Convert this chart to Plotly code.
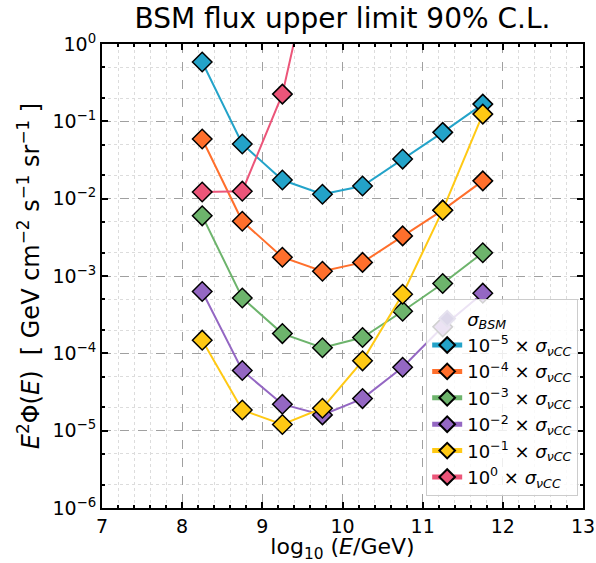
import plotly.graph_objects as go

# log10(E/GeV) bin centres
log_energy = [8.25, 8.75, 9.25, 9.75, 10.25, 10.75, 11.25, 11.75]

# E^2 Phi upper limits (GeV cm^-2 s^-1 sr^-1) for each cross-section scaling
flux_1e5 = [0.585, 0.051, 0.0174, 0.0114, 0.0146, 0.0325, 0.072, 0.167]
flux_1e4 = [0.059, 0.0051, 0.00175, 0.00115, 0.0015, 0.0033, 0.0071, 0.017]
flux_1e3 = [0.006, 0.00052, 0.00018, 0.000118, 0.00016, 0.00035, 0.0008, 0.002]
flux_1e2 = [0.00063, 6.0e-5, 2.2e-5, 1.6e-5, 2.6e-5, 6.6e-5, 2.2e-4, 0.0006]
flux_1e1 = [1.48e-4, 1.85e-5, 1.2e-5, 1.95e-5, 8.0e-5, 5.8e-4, 0.0071, 0.124]
flux_1e0 = [0.0122, 0.0125, 0.225, 45.0, None, None, None, None]

exponents = ["−5", "−4", "−3", "−2", "−1", "0"]
series = [flux_1e5, flux_1e4, flux_1e3, flux_1e2, flux_1e1, flux_1e0]
colors = ["#23a3c9", "#ff6f2c", "#6db46c", "#9467c3", "#ffc914", "#ec5579"]

y_tick_vals = [1e-6, 1e-5, 1e-4, 1e-3, 1e-2, 1e-1, 1e0]
y_tick_text = ["10<sup>−6</sup>", "10<sup>−5</sup>", "10<sup>−4</sup>", "10<sup>−3</sup>",
               "10<sup>−2</sup>", "10<sup>−1</sup>", "10<sup>0</sup>"]

FONT = "DejaVu Sans, Liberation Sans, sans-serif"

fig = go.Figure()

# header entry for the legend
fig.add_trace(go.Scatter(
    x=[None], y=[None], mode="markers",
    name="<i>σ</i><sub><i>BSM</i></sub>",
    marker=dict(symbol="diamond", size=15, color="#ddd8ea",
                line=dict(color="#e6e2ef", width=1)),
))

for exp, vals, col in zip(exponents, series, colors):
    fig.add_trace(go.Scatter(
        x=log_energy, y=vals, mode="lines+markers",
        name=f"10<sup>{exp}</sup> × <i>σ</i><sub><i>νCC</i></sub>",
        line=dict(color=col, width=2),
        marker=dict(symbol="diamond", size=15, color=col,
                    line=dict(color="black", width=1.5)),
        connectgaps=False,
    ))

axis_common = dict(
    showline=True, linecolor="black", linewidth=2, mirror="allticks",
    ticks="inside", ticklen=6, tickwidth=1.5, tickcolor="black",
    showgrid=True, gridcolor="#a0a0a0", griddash="dash", gridwidth=1.2,
    zeroline=False, automargin=False,
    tickfont=dict(family=FONT, size=19, color="black"),
)

fig.update_xaxes(
    **axis_common,
    range=[7, 13], dtick=1, tick0=7,
    minor=dict(dtick=0.2, ticks="inside", ticklen=3, tickcolor="black",
               showgrid=True, gridcolor="#dcdcdc", griddash="dot", gridwidth=1),
    title=dict(text="log<sub>10</sub> (<i>E</i>/GeV)",
               font=dict(family=FONT, size=22, color="black"), standoff=6),
)
fig.update_yaxes(
    **axis_common,
    type="log", range=[-6, 0],
    tickvals=y_tick_vals, ticktext=y_tick_text,
    minor=dict(ticks="inside", ticklen=3, tickcolor="black",
               showgrid=True, gridcolor="#dcdcdc", griddash="dot", gridwidth=1),
    title=dict(text="<i>E</i><sup>2</sup>Φ(<i>E</i>)  [ GeV cm<sup>−2</sup> s<sup>−1</sup> sr<sup>−1</sup> ]",
               font=dict(family=FONT, size=24, color="black"), standoff=6),
)

fig.update_layout(
    width=596, height=563,
    margin=dict(l=102, r=13, t=44, b=55),
    paper_bgcolor="white", plot_bgcolor="white",
    title=dict(text="BSM flux upper limit 90% C.L.", x=0.5, xref="paper",
               xanchor="center", y=0.968, yanchor="middle",
               font=dict(family=FONT, size=28, color="black")),
    legend=dict(x=0.99, xanchor="right", y=0.025, yanchor="bottom",
                bgcolor="rgba(255,255,255,0.82)", bordercolor="#cccccc",
                borderwidth=1, font=dict(family=FONT, size=18, color="black"),
                tracegroupgap=0, itemsizing="constant"),
    showlegend=True,
)

fig.write_html("out.html")
